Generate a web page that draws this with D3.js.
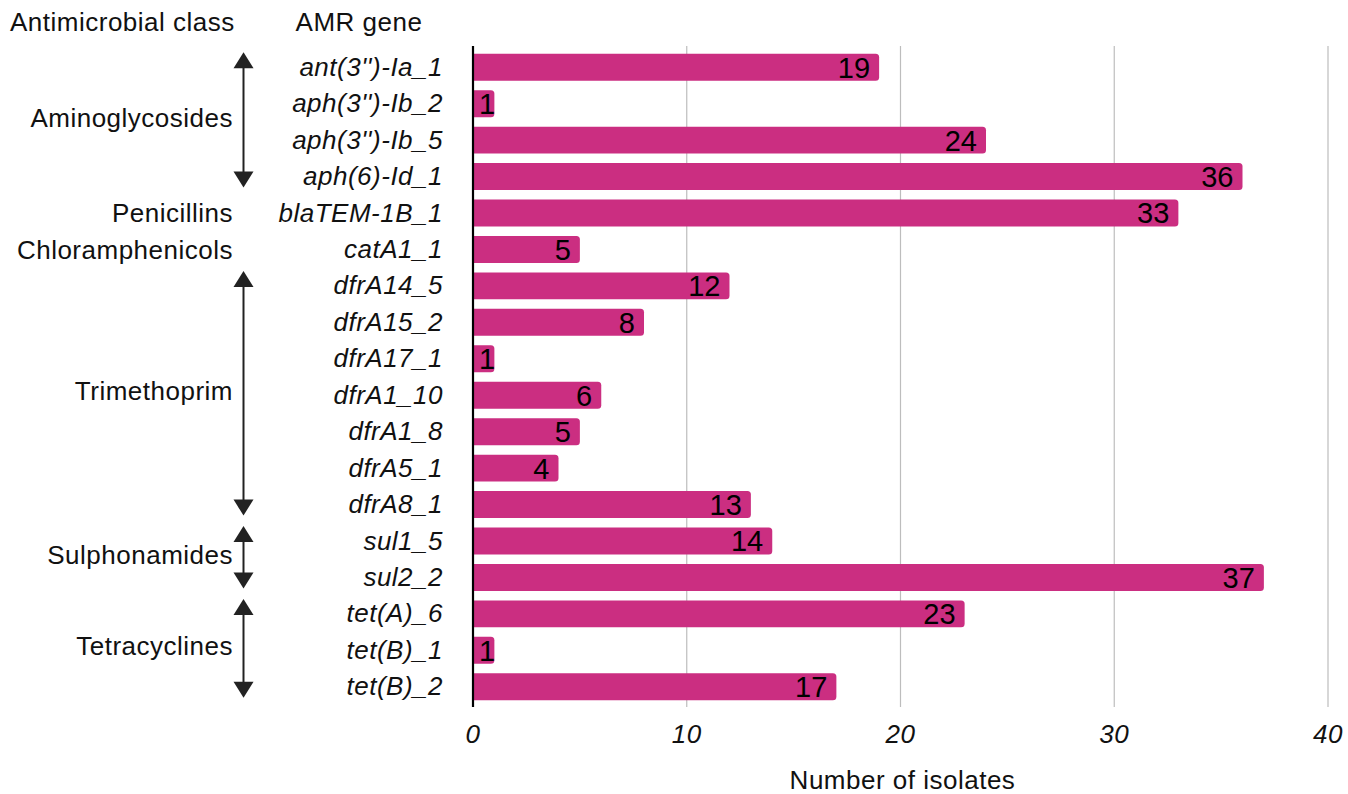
<!DOCTYPE html>
<html>
<head>
<meta charset="utf-8">
<script src="https://cdn.jsdelivr.net/npm/d3@7"></script>
<style>
  html, body { margin: 0; padding: 0; background: #fff; }
  svg { display: block; font-family: "Liberation Sans", Arial, Helvetica, sans-serif; }
</style>
</head>
<body>
<svg id="chart" width="1348" height="794"></svg>
<script>
// ---- data ----
const genes = ["ant(3'')-Ia_1", "aph(3'')-Ib_2", "aph(3'')-Ib_5", "aph(6)-Id_1", "blaTEM-1B_1",
  "catA1_1", "dfrA14_5", "dfrA15_2", "dfrA17_1", "dfrA1_10", "dfrA1_8", "dfrA5_1", "dfrA8_1",
  "sul1_5", "sul2_2", "tet(A)_6", "tet(B)_1", "tet(B)_2"];
const isolates = [19, 1, 24, 36, 33, 5, 12, 8, 1, 6, 5, 4, 13, 14, 37, 23, 1, 17];
const classNames = ["Aminoglycosides", "Penicillins", "Chloramphenicols", "Trimethoprim", "Sulphonamides", "Tetracyclines"];
const classFirstGene = ["ant(3'')-Ia_1", "blaTEM-1B_1", "catA1_1", "dfrA14_5", "sul1_5", "tet(A)_6"];
const classLastGene = ["aph(6)-Id_1", "blaTEM-1B_1", "catA1_1", "dfrA8_1", "sul2_2", "tet(B)_2"];
const xTicks = [0, 10, 20, 30, 40];
const xTitle = "Number of isolates";
const headerClass = "Antimicrobial class";
const headerGene = "AMR gene";

// ---- layout ----
const svg = d3.select("#chart");
const x = d3.scaleLinear().domain([0, 40]).range([473, 1328]);
const y = d3.scaleBand().domain(genes).range([49, 705]).paddingInner(0.26).paddingOuter(0.13);
const axisTop = 46, axisBottom = 707;
const barColor = "#cb2e81";
const fs = 26;
const ls = "0.5px";

// gridlines
svg.append("g").selectAll("line").data(xTicks.filter(d => d > 0)).join("line")
  .attr("x1", d => x(d)).attr("x2", d => x(d))
  .attr("y1", axisTop).attr("y2", axisBottom)
  .attr("stroke", "#bdbdbd").attr("stroke-width", 1.2);

// bars with rounded right end
function barPath(x0, x1, y0, h, r) {
  r = Math.min(r, (x1 - x0) / 2, h / 2);
  return `M${x0},${y0} H${x1 - r} Q${x1},${y0} ${x1},${y0 + r} V${y0 + h - r} Q${x1},${y0 + h} ${x1 - r},${y0 + h} H${x0} Z`;
}
svg.append("g").selectAll("path").data(genes).join("path")
  .attr("d", (g, i) => barPath(x(0), x(isolates[i]), y(g), y.bandwidth(), 3.5))
  .attr("fill", barColor);

// axis line
svg.append("line").attr("x1", x(0)).attr("x2", x(0)).attr("y1", axisTop).attr("y2", axisBottom)
  .attr("stroke", "#000").attr("stroke-width", 2.2);

// value labels
const vl = svg.append("g").selectAll("text").data(genes).join("text")
  .attr("y", g => y(g) + y.bandwidth() / 2)
  .attr("dy", "0.36em")
  .attr("font-size", 29)
  .attr("fill", "#000")
  .attr("text-anchor", "end")
  .text((g, i) => isolates[i]);
vl.each(function (g, i) {
  const w = this.getComputedTextLength();
  const xe = Math.max(x(isolates[i]) - 9, x(0) + 6 + w);
  d3.select(this).attr("x", xe);
});

// x axis tick labels
svg.append("g").selectAll("text").data(xTicks).join("text")
  .attr("x", d => x(d)).attr("y", 743)
  .attr("text-anchor", "middle").attr("font-style", "italic")
  .attr("font-size", fs).attr("letter-spacing", ls).attr("fill", "#111")
  .text(d => d);

svg.append("text").attr("x", (x(0) + x(40)) / 2 + 2).attr("y", 789)
  .attr("text-anchor", "middle").attr("font-size", fs).attr("letter-spacing", ls).attr("fill", "#111").text(xTitle);

// gene labels
svg.append("g").selectAll("text").data(genes).join("text")
  .attr("x", 443).attr("y", g => y(g) + y.bandwidth() / 2)
  .attr("dy", "0.33em")
  .attr("text-anchor", "end").attr("font-style", "italic")
  .attr("font-size", fs).attr("letter-spacing", ls).attr("fill", "#111")
  .text(g => g);

// headers
svg.append("text").attr("x", 10).attr("y", 31).attr("font-size", fs).attr("letter-spacing", ls).attr("fill", "#111").text(headerClass);
svg.append("text").attr("x", 359).attr("y", 31).attr("text-anchor", "middle").attr("font-size", fs).attr("letter-spacing", ls).attr("fill", "#111").text(headerGene);

// class labels and arrows
const arrowX = 243.5;
const cg = svg.append("g");
classNames.forEach((c, k) => {
  const yA = y(classFirstGene[k]) + y.bandwidth() / 2;
  const yB = y(classLastGene[k]) + y.bandwidth() / 2;
  const mid = (yA + yB) / 2;
  cg.append("text").attr("x", 233).attr("y", mid - (yA === yB ? 0 : 4)).attr("dy", "0.35em")
    .attr("text-anchor", "end").attr("font-size", fs).attr("letter-spacing", ls).attr("fill", "#111").text(c);
  if (yA !== yB) {
    const t = yA - 15, b = yB + 11, hh = 16, hw = 10;
    cg.append("line").attr("x1", arrowX).attr("x2", arrowX).attr("y1", t + hh - 1).attr("y2", b - hh + 1)
      .attr("stroke", "#222").attr("stroke-width", 2);
    cg.append("path").attr("d", `M${arrowX},${t} L${arrowX + hw},${t + hh} L${arrowX - hw},${t + hh} Z`).attr("fill", "#222");
    cg.append("path").attr("d", `M${arrowX},${b} L${arrowX + hw},${b - hh} L${arrowX - hw},${b - hh} Z`).attr("fill", "#222");
  }
});
</script>
</body>
</html>
